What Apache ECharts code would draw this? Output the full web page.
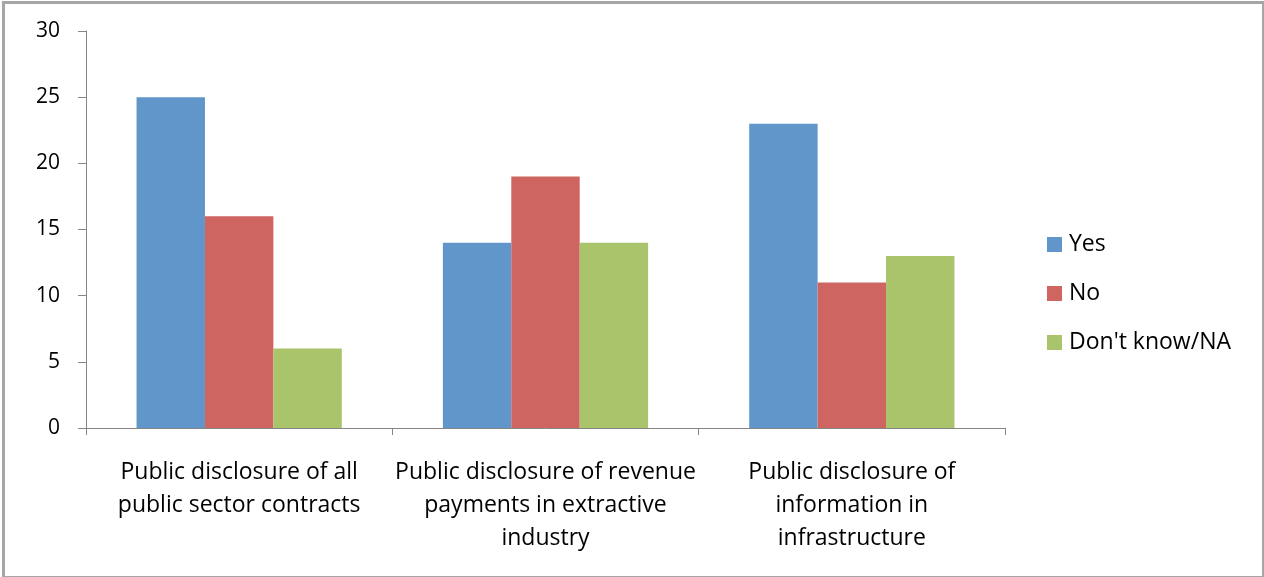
<!DOCTYPE html>
<html>
<head>
<meta charset="utf-8">
<script src="https://cdn.jsdelivr.net/npm/echarts@6/dist/echarts.min.js"></script>
<style>
  html, body { margin: 0; padding: 0; background: #fff; }
  #frame { position: absolute; left: 2px; top: 1px; width: 1257px; height: 572px; border: 3px solid #a6a6a6; box-sizing: content-box; }
  #chart { position: absolute; left: 0; top: 0; width: 1264px; height: 577px; }
</style>
</head>
<body>
<div id="frame"></div>
<div id="chart"></div>
<script>
// Survey answers per disclosure topic
const categories = [
  'Public disclosure of all\npublic sector contracts',
  'Public disclosure of revenue\npayments in extractive\nindustry',
  'Public disclosure of\ninformation in\ninfrastructure'
];
const yesValues = [25, 14, 23];
const noValues = [16, 19, 11];
const dontKnowValues = [6, 14, 13];
const seriesNames = ['Yes', 'No', "Don't know/NA"];
const seriesColors = ['#6096ca', '#ce6561', '#a9c46b'];

const fontFamily = '"Open Sans", "Noto Sans", sans-serif';
const chart = echarts.init(document.getElementById('chart'));

const makeSeries = (name, data, color) => ({
  name: name,
  type: 'bar',
  data: data,
  barGap: '0%',
  barCategoryGap: '33%',
  itemStyle: { color: color },
  emphasis: { disabled: true }
});

chart.setOption({
  animation: false,
  grid: { left: 86, right: 259, top: 31, bottom: 149, containLabel: false },
  legend: {
    orient: 'vertical',
    left: 1047,
    top: 233,
    padding: 0,
    itemWidth: 15,
    itemHeight: 15,
    itemGap: 26,
    icon: 'rect',
    textStyle: { fontFamily: fontFamily, fontSize: 23, color: '#000', padding: [0, 0, 0, 2] },
    data: seriesNames
  },
  xAxis: {
    type: 'category',
    data: categories,
    axisLine: { lineStyle: { color: '#868686', width: 1 } },
    axisTick: { show: true, length: 7, lineStyle: { color: '#868686' } },
    axisLabel: {
      fontFamily: fontFamily,
      fontSize: 23,
      color: '#000',
      lineHeight: 33,
      margin: 28,
      interval: 0
    }
  },
  yAxis: {
    type: 'value',
    min: 0,
    max: 30,
    interval: 5,
    splitLine: { show: false },
    axisLine: { show: true, lineStyle: { color: '#868686', width: 1 } },
    axisTick: { show: true, length: 8, lineStyle: { color: '#868686' } },
    axisLabel: { fontFamily: fontFamily, fontSize: 21, color: '#000', margin: 26 }
  },
  series: [
    makeSeries(seriesNames[0], yesValues, seriesColors[0]),
    makeSeries(seriesNames[1], noValues, seriesColors[1]),
    makeSeries(seriesNames[2], dontKnowValues, seriesColors[2])
  ]
});
</script>
</body>
</html>
